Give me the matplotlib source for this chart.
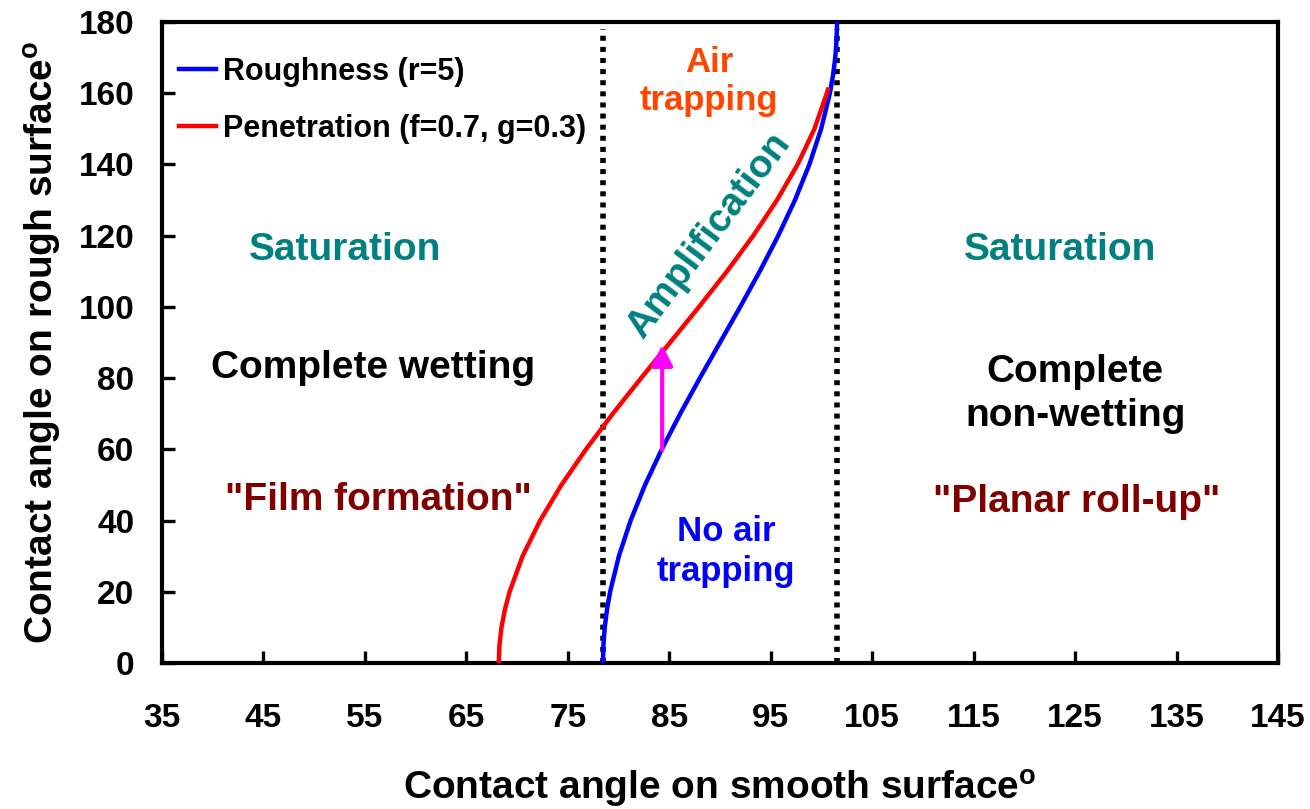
import matplotlib
matplotlib.use("Agg")
import matplotlib.pyplot as plt

# ---- data ----
rough_y = [0, 5, 10, 15, 20, 30, 40, 50, 60, 70, 80, 90, 100, 110, 120, 130, 140, 150, 160, 165, 170, 175, 180]
rough_x = [78.46, 78.51, 78.64, 78.86, 79.17, 80.03, 81.19, 82.61, 84.26, 86.08, 88.01, 90.00,
           91.99, 93.92, 95.74, 97.39, 98.81, 99.97, 100.83, 101.14, 101.36, 101.49, 101.54]

pen_y = [0, 5, 10, 15, 20, 30, 40, 50, 60, 70, 80, 90, 100, 110, 120, 130, 140, 150, 160, 161]
pen_x = [68.19, 68.26, 68.46, 68.80, 69.26, 70.54, 72.27, 74.37, 76.79, 79.43, 82.22, 85.08,
         87.93, 90.69, 93.28, 95.62, 97.65, 99.31, 100.53, 100.63]

limit_x = [78.46, 101.54]
limit_y = [0, 178]

arrow_x = 84.3
arrow_y = [59.8, 89.3]

x_ticks = [35, 45, 55, 65, 75, 85, 95, 105, 115, 125, 135, 145]
y_ticks = [0, 20, 40, 60, 80, 100, 120, 140, 160, 180]

legend_labels = ["Roughness (r=5)", "Penetration (f=0.7, g=0.3)"]

FONT = "Liberation Sans"
plt.rcParams["font.family"] = [FONT, "DejaVu Sans"]
plt.rcParams["font.weight"] = "bold"
plt.rcParams["mathtext.fontset"] = "custom"
plt.rcParams["mathtext.bf"] = FONT + ":bold"
plt.rcParams["mathtext.rm"] = FONT + ":bold"

fig = plt.figure(figsize=(13.10, 8.09), dpi=100)
ax = fig.add_axes([162 / 1310, 1 - 663 / 809, (1278 - 162) / 1310, (663 - 22) / 809])

ax.plot(rough_x, rough_y, color="#0000FF", lw=3.2, label=legend_labels[0], zorder=4)
ax.plot(pen_x, pen_y, color="#FF0000", lw=3.2, label=legend_labels[1], zorder=4)

for xv in limit_x:
    ax.plot([xv, xv], limit_y, color="black", lw=4, linestyle=(0, (0.9, 1.1)), zorder=3)

ax.annotate("", xy=(arrow_x, arrow_y[1]), xytext=(arrow_x, arrow_y[0]),
            arrowprops=dict(arrowstyle="-|>,head_length=0.5,head_width=0.26",
                            color="#FF00FF", lw=3, mutation_scale=25,
                            shrinkA=0, shrinkB=0), zorder=5)

ax.set_xlim(35, 145)
ax.set_ylim(0, 180)
ax.set_xticks(x_ticks)
ax.set_yticks(y_ticks)
ax.tick_params(direction="in", length=9, width=2.4, labelsize=24)
ax.tick_params(axis="x", pad=29)
ax.tick_params(axis="y", pad=20)
for lab in ax.get_xticklabels() + ax.get_yticklabels():
    lab.set_fontweight("bold")
for s in ax.spines.values():
    s.set_linewidth(3)

ax.set_xlabel(r"Contact angle on smooth surface$^{\mathbf{o}}$", fontsize=28, fontweight="bold")
ax.set_ylabel(r"Contact angle on rough surface$^{\mathbf{o}}$", fontsize=28, fontweight="bold")
ax.xaxis.set_label_coords(0.5, -0.164)
ax.yaxis.set_label_coords(-0.088, 0.5)

leg = ax.legend(loc="upper left", bbox_to_anchor=(0.0152, 0.946), frameon=False,
                fontsize=22, handlelength=1.2, handletextpad=0.25, labelspacing=0.88,
                borderaxespad=0, borderpad=0)
for t in leg.get_texts():
    t.set_fontweight("bold")

teal = "#008080"
dred = "#800000"
kw = dict(ha="center", va="center", fontweight="bold")
ax.text(53.0, 116, "Saturation", color=teal, fontsize=28, **kw)
ax.text(55.8, 82.8, "Complete wetting", color="black", fontsize=28, **kw)
ax.text(56.3, 45.8, '"Film formation"', color=dred, fontsize=28, **kw)
ax.text(123.5, 116, "Saturation", color=teal, fontsize=28, **kw)
ax.text(125.0, 75.5, "Complete\nnon-wetting", color="black", fontsize=28, linespacing=1.3, **kw)
ax.text(125.2, 45.2, '"Planar roll-up"', color=dred, fontsize=28, **kw)
ax.text(88.9, 163.4, "Air\ntrapping", color="#FF4500", fontsize=25, linespacing=1.2, **kw)
ax.text(90.6, 31.3, "No air\ntrapping", color="#0000FF", fontsize=25, linespacing=1.3, **kw)
ax.text(88.9, 119.9, "Amplification", color=teal, fontsize=28, rotation=53,
        rotation_mode="anchor", **kw)

fig.savefig("out.png", dpi=100)
